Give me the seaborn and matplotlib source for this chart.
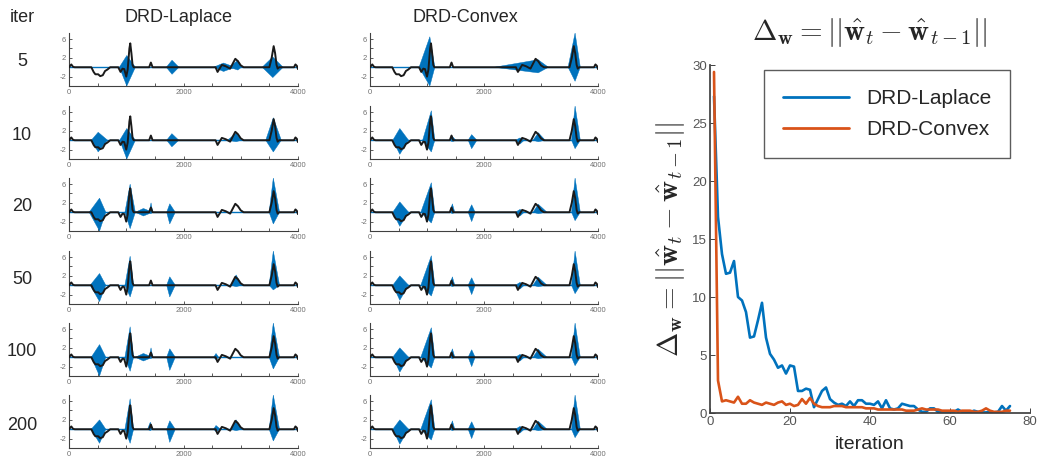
import matplotlib
matplotlib.use("Agg")
import matplotlib.pyplot as plt
import numpy as np
import pandas as pd
import seaborn as sns

# ── Data ──────────────────────────────────────────────────────────────────────

ITERS   = ["5", "10", "20", "50", "100", "200"]
METHODS = ["DRD-Laplace", "DRD-Convex"]

# true signal (black line), shared by every panel
TRUE_X = [0, 20, 40, 70, 100, 390, 430, 460, 510, 545, 590, 630, 670, 720,
          860, 900, 935, 965, 1000, 1025, 1055, 1070, 1090, 1110, 1130,
          1400, 1430, 1460, 2560, 2595, 2620, 2670, 2740, 2815, 2870, 2905,
          2950, 3000, 3050, 3500, 3540, 3575, 3600, 3625, 3645, 3670,
          3930, 3955, 3980, 4000]
TRUE_Y = [0, 0.3, 0.6, 0.1, 0, 0, -1.0, -1.5, -1.5, -1.9, -1.7, -0.8, -0.5, 0,
          0, -1.0, -0.3, -0.4, -2.0, -0.5, 4.0, 5.1, 3.0, 0.5, 0,
          0, 1.0, 0, 0, -1.0, -0.5, 0.5, 0.2, -0.3, 1.0, 1.8,
          1.3, 0.4, 0, 0, 2.0, 4.5, 3.0, 0.5, -0.3, 0,
          0, 0.6, 0.3, -0.4]

# estimate (blue) bursts per iteration row: (start, peak, end, top, bottom)
LAPLACE_BURSTS = [
    [(880, 1010, 1160, 2.5, -4.0), (1700, 1800, 1920, 1.5, -1.5),
     (2525, 2700, 2900, 0.9, -0.9), (2800, 2950, 3010, 1.5, -0.6),
     (3375, 3560, 3740, 2.2, -2.2)],
    [(390, 510, 674, 1.7, -2.5), (886, 1010, 1160, 2.5, -4.0),
     (1706, 1797, 1918, 1.4, -1.4), (2768, 2920, 3011, 1.5, -0.3),
     (3436, 3569, 3709, 4.8, -2.5)],
    [(352, 534, 643, 3.0, -4.0), (977, 1068, 1159, 6.0, -3.5),
     (1159, 1300, 1463, 0.8, -0.8), (1400, 1433, 1463, 2.0, -0.3),
     (1706, 1760, 1857, 1.8, -2.5), (3496, 3569, 3678, 7.3, -2.5)],
    [(370, 534, 643, 2.5, -3.5), (977, 1068, 1129, 6.2, -2.5),
     (1706, 1760, 1857, 1.8, -2.5), (2829, 2920, 3011, 2.2, -0.3),
     (3496, 3569, 3678, 7.3, -1.0)],
    [(388, 534, 643, 2.7, -4.0), (977, 1068, 1129, 6.5, -3.0),
     (1159, 1300, 1463, 0.8, -0.8), (1400, 1433, 1463, 2.0, -0.3),
     (1706, 1760, 1857, 1.8, -2.8), (2525, 2568, 2616, 0.8, -0.5),
     (3496, 3569, 3678, 7.3, -2.5)],
    [(388, 534, 643, 2.0, -3.0), (977, 1068, 1129, 6.5, -3.0),
     (1372, 1420, 1463, 1.5, -0.3), (1706, 1760, 1857, 1.8, -2.8),
     (2525, 2568, 2647, 0.8, -0.5), (2829, 2920, 3011, 2.0, -0.3),
     (3496, 3569, 3678, 7.3, -2.5)],
]
CONVEX_BURSTS = [
    [(861, 1050, 1138, 6.5, -4.0), (2180, 2950, 3130, 1.6, -1.2),
     (3475, 3598, 3690, 7.3, -3.0)],
    [(400, 523, 677, 2.5, -3.0), (923, 1076, 1138, 6.3, -2.5),
     (1384, 1445, 1507, 0.8, -0.3), (1722, 1784, 1876, 1.2, -1.8),
     (2552, 2632, 2706, 0.5, -0.8), (2860, 2952, 3075, 1.6, -0.3),
     (3536, 3598, 3690, 7.3, -1.8)],
    [(400, 523, 677, 2.2, -3.0), (892, 1076, 1138, 6.3, -2.3),
     (1402, 1445, 1488, 1.8, -0.3), (1722, 1784, 1845, 1.6, -2.0),
     (2552, 2632, 2706, 0.6, -0.8), (2860, 2952, 3106, 1.7, -0.3),
     (3536, 3598, 3690, 7.3, -1.8)],
    [(400, 523, 677, 2.0, -3.2), (892, 1076, 1138, 6.3, -2.3),
     (1402, 1445, 1488, 1.8, -0.3), (1722, 1784, 1845, 1.6, -2.0),
     (2552, 2632, 2706, 0.6, -0.8), (2860, 2952, 3106, 1.7, -0.3),
     (3536, 3598, 3690, 7.3, -1.8)],
    [(400, 523, 677, 2.0, -3.2), (892, 1076, 1138, 6.3, -2.3),
     (1402, 1445, 1488, 1.8, -0.3), (1722, 1784, 1845, 1.6, -2.0),
     (2552, 2632, 2706, 0.6, -0.8), (2860, 2952, 3106, 1.7, -0.3),
     (3536, 3598, 3690, 7.3, -1.8)],
    [(400, 523, 677, 2.0, -3.2), (892, 1076, 1138, 6.3, -2.3),
     (1402, 1445, 1488, 1.8, -0.3), (1722, 1784, 1845, 1.6, -2.0),
     (2552, 2632, 2706, 0.6, -0.8), (2860, 2952, 3106, 1.7, -0.3),
     (3536, 3598, 3690, 7.3, -1.8)],
]
BLUE_BASE_X = [0, 4000]
BLUE_BASE_Y = [0, 0]

# convergence curves
ITERATION = list(range(1, 76))
DELTA_LAPLACE = [27.3, 16.9, 13.7, 12.0, 12.1, 13.1, 10.0, 9.7, 8.7, 6.5,
                 6.6, 8.0, 9.5, 6.5, 5.1, 4.6, 3.9, 4.1, 3.4, 4.1,
                 4.0, 1.9, 1.9, 2.1, 2.0, 0.5, 1.2, 1.9, 2.2, 1.2,
                 0.9, 0.7, 0.8, 0.6, 1.0, 0.6, 1.1, 1.1, 0.8, 0.8,
                 0.7, 1.0, 0.4, 1.1, 0.4, 0.3, 0.4, 0.8, 0.7, 0.6,
                 0.6, 0.3, 0.1, 0.1, 0.4, 0.4, 0.1, 0.05, 0.1, 0.1,
                 0.1, 0.3, 0.1, 0.05, 0.05, 0.2, 0.1, 0.05, 0.05, 0.1,
                 0.05, 0.1, 0.6, 0.2, 0.6]
DELTA_CONVEX = [29.4, 2.8, 1.0, 1.1, 1.0, 0.9, 1.4, 0.8, 0.8, 1.1,
                0.9, 0.8, 0.7, 0.9, 0.8, 0.7, 0.9, 1.0, 0.7, 0.8,
                0.6, 0.7, 1.2, 0.8, 1.3, 0.8, 0.6, 0.5, 0.5, 0.5,
                0.6, 0.6, 0.6, 0.5, 0.5, 0.5, 0.5, 0.5, 0.4, 0.4,
                0.4, 0.3, 0.3, 0.3, 0.3, 0.3, 0.3, 0.3, 0.2, 0.2,
                0.2, 0.3, 0.4, 0.3, 0.3, 0.3, 0.3, 0.2, 0.2, 0.2,
                0.2, 0.1, 0.2, 0.2, 0.2, 0.1, 0.1, 0.2, 0.4, 0.2,
                0.1, 0.1, 0.1, 0.2, 0.2]

BLUE   = "#0072BD"
ORANGE = "#D95319"
AXCOL  = "#404040"

# ── Style ─────────────────────────────────────────────────────────────────────

sns.set_theme(style="white")
plt.rcParams.update({
    "font.family": ["Liberation Sans", "DejaVu Sans"],
    "mathtext.fontset": "cm",
    "axes.edgecolor": AXCOL,
    "xtick.color": AXCOL,
    "ytick.color": AXCOL,
    "xtick.direction": "in",
    "ytick.direction": "in",
    "xtick.bottom": True,
    "ytick.left": True,
})

W, H = 1037, 459
fig = plt.figure(figsize=(W / 100, H / 100), dpi=100)


def px_axes(x0, y0, x1, y1):
    return fig.add_axes([x0 / W, 1 - y1 / H, (x1 - x0) / W, (y1 - y0) / H])


# ── Small signal panels ───────────────────────────────────────────────────────

row_tops = [33, 106, 178, 251, 323, 395]
col_lefts = [(69, 298), (370, 598)]
true_df = pd.DataFrame({"x": TRUE_X, "y": TRUE_Y})

for r, top in enumerate(row_tops):
    for c, (xl, xr) in enumerate(col_lefts):
        ax = px_axes(xl, top, xr, top + 53)
        bursts = LAPLACE_BURSTS[r] if c == 0 else CONVEX_BURSTS[r]
        ax.plot(BLUE_BASE_X, BLUE_BASE_Y, color=BLUE, lw=1.0)
        for (s, p, e, hi, lo) in bursts:
            ax.fill([s, p, e, p], [0, hi, 0, lo], color=BLUE, lw=0.3,
                    edgecolor=BLUE)
        sns.lineplot(data=true_df, x="x", y="y", ax=ax, color="#1a1a1a",
                     lw=1.4, sort=False, estimator=None, zorder=5)
        ax.set_xlim(0, 4000)
        ax.set_ylim(-4, 7.3)
        ax.set_xticks(np.arange(0, 4001, 500))
        ax.set_xticklabels(["0", "", "", "", "2000", "", "", "", "4000"])
        ax.set_yticks([-4, -2, 0, 2, 4, 6])
        ax.set_yticklabels(["", "-2", "", "2", "", "6"])
        ax.tick_params(labelsize=5.5, length=2, width=0.6, pad=2,
                       labelcolor="#707070")
        ax.set_xlabel("")
        ax.set_ylabel("")
        sns.despine(ax=ax)
        for sp in ("left", "bottom"):
            ax.spines[sp].set_linewidth(0.8)

fig.text(22 / W, 1 - 17 / H, "iter", ha="center", va="center", fontsize=13)
fig.text(178 / W, 1 - 17 / H, METHODS[0], ha="center", va="center", fontsize=13)
fig.text(465 / W, 1 - 17 / H, METHODS[1], ha="center", va="center", fontsize=13)
for lab, yc in zip(ITERS, [62, 135, 207, 280, 352, 425]):
    fig.text(22 / W, 1 - yc / H, lab, ha="center", va="center", fontsize=13)

# ── Convergence panel ─────────────────────────────────────────────────────────

ax = px_axes(710, 65, 1030, 413)
conv = pd.DataFrame({
    "iteration": ITERATION * 2,
    "delta": DELTA_LAPLACE + DELTA_CONVEX,
    "method": [METHODS[0]] * len(ITERATION) + [METHODS[1]] * len(ITERATION),
})
sns.lineplot(data=conv, x="iteration", y="delta", hue="method",
             palette=[BLUE, ORANGE], lw=1.9, ax=ax, estimator=None)
ax.set_xlim(0, 80)
ax.set_ylim(0, 30)
ax.set_xticks([0, 20, 40, 60, 80])
ax.set_yticks([0, 5, 10, 15, 20, 25, 30])
ax.tick_params(labelsize=9.5, length=3.5, width=0.7, pad=2, labelcolor="#555555")
sns.despine(ax=ax)
ax.set_xlabel("iteration", fontsize=14, labelpad=6)
ax.set_ylabel(r"$\Delta_{\mathbf{w}} = ||\hat{\mathbf{w}}_t - \hat{\mathbf{w}}_{t-1}||$",
              fontsize=21, labelpad=4)
ax.set_title(r"$\Delta_{\mathbf{w}} = ||\hat{\mathbf{w}}_t - \hat{\mathbf{w}}_{t-1}||$",
             fontsize=21, pad=18)
leg = ax.legend(loc="upper right", bbox_to_anchor=(0.97, 1.015), fontsize=15,
                handlelength=3.2, frameon=True, fancybox=False,
                edgecolor="#333333", borderpad=0.9, labelspacing=0.6)
leg.get_frame().set_linewidth(1.0)
for line in leg.get_lines():
    line.set_linewidth(2.0)

fig.savefig("out.png", dpi=100)
